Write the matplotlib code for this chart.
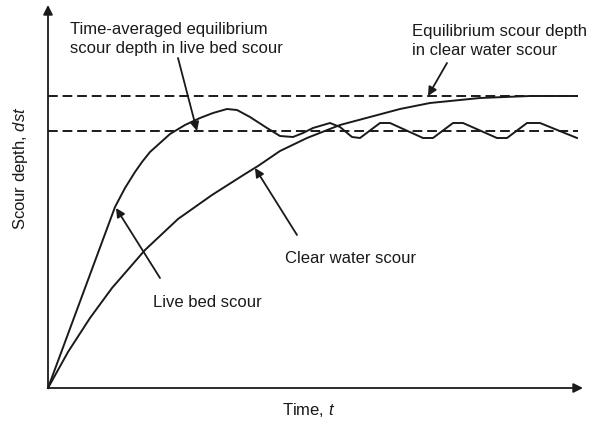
import numpy as np
import matplotlib.pyplot as plt

plt.rcParams['font.family'] = 'Liberation Sans'
plt.rcParams['mathtext.fontset'] = 'custom'
plt.rcParams['mathtext.rm'] = 'Liberation Sans'
plt.rcParams['mathtext.it'] = 'Liberation Sans:italic'

# time / depth (arbitrary units)
t_live = [0, 67, 77, 87, 94, 102, 122, 137, 152, 165, 179, 189, 202, 219,
          232, 245, 255, 265, 282, 292, 304, 312, 332, 342, 375, 385,
          405, 415, 449, 459, 479, 492, 529]
d_live = [0, 181, 200, 216, 226, 236, 254, 263, 270, 275, 279, 278, 271, 260,
          252, 251, 255, 260, 265, 261, 251, 250, 265, 265, 250, 250,
          265, 265, 250, 250, 265, 265, 250]

t_clear = [0, 20, 42, 64, 97, 130, 164, 197, 210, 232, 259, 292, 322,
           352, 382, 432, 482, 529]
d_clear = [0, 36, 70, 100, 138, 169, 193, 214, 222, 237, 250, 263, 271,
           279, 285, 290, 292, 292]

eq_clear = 292
eq_live = 257

ink = '#1a1a1a'

fig = plt.figure(figsize=(5.93, 4.22), dpi=100)
ax = fig.add_axes([48/593, 34/422, 535/593, 383/422])
ax.set_xlim(0, 535)
ax.set_ylim(0, 383)
ax.axis('off')

# axes with arrow heads
ax.annotate('', xy=(535, 0), xytext=(0, 0),
            arrowprops=dict(arrowstyle='-|>', lw=1.3, color=ink, mutation_scale=14,
                            shrinkA=0, shrinkB=0),
            annotation_clip=False)
ax.annotate('', xy=(0, 383), xytext=(0, 0),
            arrowprops=dict(arrowstyle='-|>', lw=1.3, color=ink, mutation_scale=14,
                            shrinkA=0, shrinkB=0),
            annotation_clip=False)

ax.plot([0, 530], [eq_clear, eq_clear], color=ink, lw=1.4, dashes=(5, 2.5))
ax.plot([0, 530], [eq_live, eq_live], color=ink, lw=1.4, dashes=(5, 2.5))

ax.plot(t_live, d_live, color=ink, lw=1.4, clip_on=False, solid_joinstyle='round')
ax.plot(t_clear, d_clear, color=ink, lw=1.4, clip_on=False, solid_joinstyle='round')

arr = dict(arrowstyle='-|>', lw=1.3, color=ink, mutation_scale=13,
           shrinkA=0, shrinkB=0)
ax.annotate('', xy=(149, eq_live), xytext=(130, 330), arrowprops=arr)
ax.annotate('', xy=(380, eq_clear), xytext=(399, 325), arrowprops=arr)
ax.annotate('', xy=(68, 180), xytext=(112, 110), arrowprops=arr)
ax.annotate('', xy=(207, 220), xytext=(249, 153), arrowprops=arr)

fs = 12
ax.text(22, 335, 'Time-averaged equilibrium\nscour depth in live bed scour',
        fontsize=fs, va='baseline', ha='left', linespacing=1.3, color=ink)
ax.text(364, 333, 'Equilibrium scour depth\nin clear water scour',
        fontsize=fs, va='baseline', ha='left', linespacing=1.3, color=ink)
ax.text(237, 125, 'Clear water scour', fontsize=fs, va='baseline', color=ink)
ax.text(105, 81, 'Live bed scour', fontsize=fs, va='baseline', color=ink)
ax.text(234, -27, 'Time, $t$', fontsize=fs, va='baseline', color=ink)
ax.text(-23, 220, 'Scour depth, $dst$', fontsize=fs, rotation=90,
        ha='center', va='baseline', rotation_mode='anchor', color=ink)

plt.savefig('out.png', dpi=100)
